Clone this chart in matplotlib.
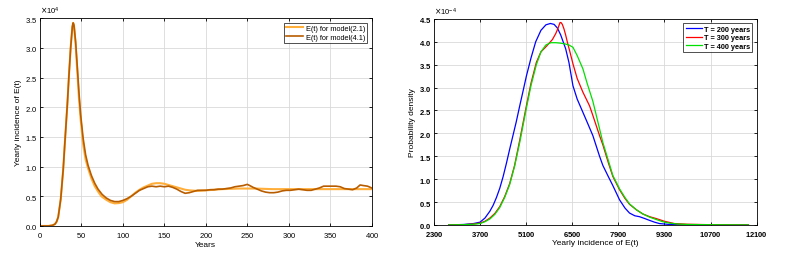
import matplotlib
matplotlib.use("Agg")
import matplotlib.pyplot as plt

# ---- left panel: yearly incidence E(t), two models ----
t_m21 = [0, 10, 15, 18, 20, 22, 25, 28, 30, 33, 35, 37, 39, 40, 41, 43, 45, 47, 49,
         52, 55, 58, 62, 66, 70, 74, 80, 85, 90, 95, 100, 105, 110, 115, 120, 125,
         130, 135, 140, 145, 150, 155, 160, 165, 170, 175, 180, 190, 200, 220, 240,
         260, 280, 300, 350, 400]
e_m21 = [0, 0, 0.01, 0.03, 0.07, 0.15, 0.45, 0.95, 1.4, 2.05, 2.55, 3.0, 3.35, 3.42,
         3.38, 3.05, 2.6, 2.15, 1.8, 1.38, 1.12, 0.97, 0.8, 0.67, 0.58, 0.5, 0.44,
         0.4, 0.38, 0.385, 0.4, 0.44, 0.5, 0.56, 0.61, 0.65, 0.68, 0.71, 0.72, 0.72,
         0.71, 0.69, 0.67, 0.65, 0.63, 0.61, 0.6, 0.59, 0.6, 0.62, 0.63, 0.63, 0.62,
         0.62, 0.62, 0.62]

t_m41 = [0, 10, 15, 18, 20, 22, 25, 28, 30, 33, 35, 37, 39, 40, 41, 43, 45, 47, 49,
         52, 55, 58, 62, 66, 70, 75, 80, 85, 90, 95, 100, 105, 110, 115, 120, 125,
         130, 135, 140, 145, 150, 155, 160, 165, 170, 175, 180, 185, 190, 195, 200,
         205, 210, 215, 220, 225, 230, 235, 240, 245, 250, 253, 257, 262, 267, 272,
         277, 282, 287, 292, 297, 302, 307, 312, 317, 322, 327, 332, 337, 342, 347,
         352, 357, 362, 367, 372, 377, 382, 386, 390, 395, 400]
e_m41 = [0, 0, 0.01, 0.03, 0.07, 0.15, 0.45, 0.95, 1.4, 2.05, 2.55, 3.0, 3.35, 3.42,
         3.38, 3.1, 2.68, 2.25, 1.88, 1.48, 1.2, 1.02, 0.85, 0.72, 0.62, 0.53, 0.47,
         0.43, 0.41, 0.41, 0.43, 0.46, 0.5, 0.55, 0.6, 0.63, 0.66, 0.67, 0.66, 0.67,
         0.66, 0.67, 0.65, 0.62, 0.58, 0.55, 0.56, 0.58, 0.6, 0.6, 0.6, 0.61, 0.61,
         0.62, 0.62, 0.63, 0.64, 0.66, 0.67, 0.68, 0.70, 0.68, 0.65, 0.62, 0.59, 0.57,
         0.56, 0.56, 0.57, 0.59, 0.6, 0.6, 0.61, 0.62, 0.61, 0.6, 0.6, 0.62, 0.64,
         0.67, 0.67, 0.67, 0.67, 0.66, 0.63, 0.62, 0.61, 0.64, 0.69, 0.68, 0.67, 0.64]

# ---- right panel: probability density of yearly incidence ----
x_t200 = [2750, 3200, 3500, 3700, 3850, 4000, 4100, 4200, 4300, 4400, 4500, 4603,
          4700, 4800, 4906, 5000, 5108, 5250, 5391, 5550, 5700, 5836, 5950, 6050,
          6150, 6300, 6400, 6522, 6650, 6824, 6950, 7127, 7330, 7430, 7600, 7733,
          7936, 8100, 8239, 8400, 8542, 8700, 8845, 9000, 9148, 9450, 9800, 10500,
          11850]
p_t200 = [0, 0.01, 0.03, 0.06, 0.15, 0.3, 0.43, 0.6, 0.8, 1.05, 1.34, 1.66, 1.95,
          2.25, 2.6, 2.9, 3.25, 3.65, 4.0, 4.25, 4.37, 4.4, 4.38, 4.3, 4.15, 3.85,
          3.55, 3.04, 2.75, 2.46, 2.25, 1.95, 1.5, 1.3, 1.05, 0.86, 0.55, 0.37, 0.26,
          0.2, 0.18, 0.14, 0.1, 0.06, 0.03, 0.01, 0.003, 0, 0]

x_t300 = [2750, 3200, 3500, 3700, 3850, 4000, 4150, 4300, 4450, 4600, 4750, 4906,
          5000, 5108, 5250, 5411, 5550, 5714, 5900, 6000, 6060, 6100, 6130, 6160,
          6200, 6250, 6300, 6350, 6430, 6522, 6650, 6824, 7027, 7127, 7330, 7430,
          7600, 7733, 7936, 8100, 8239, 8450, 8643, 8850, 9046, 9300, 9600, 10000,
          10700, 11850]
p_t300 = [0, 0.005, 0.02, 0.04, 0.08, 0.15, 0.25, 0.4, 0.62, 0.9, 1.3, 1.85, 2.2,
          2.6, 3.1, 3.55, 3.78, 3.9, 4.05, 4.18, 4.28, 4.36, 4.42, 4.42, 4.38, 4.28,
          4.15, 4.0, 3.78, 3.52, 3.2, 2.9, 2.6, 2.39, 1.95, 1.75, 1.35, 1.06, 0.77,
          0.58, 0.45, 0.33, 0.24, 0.18, 0.14, 0.08, 0.03, 0.015, 0.005, 0]

x_t400 = [2750, 3200, 3500, 3700, 3850, 4000, 4150, 4300, 4450, 4600, 4750, 4906,
          5000, 5108, 5250, 5411, 5550, 5700, 5850, 6000, 6150, 6300, 6400, 6522,
          6650, 6824, 6950, 7127, 7330, 7430, 7600, 7733, 7936, 8100, 8239, 8450,
          8643, 8850, 9046, 9250, 9450, 9700, 10000, 10700, 11850]
p_t400 = [0, 0.005, 0.015, 0.03, 0.07, 0.13, 0.23, 0.38, 0.6, 0.88, 1.28, 1.8, 2.15,
          2.55, 3.05, 3.5, 3.78, 3.93, 3.98, 3.98, 3.97, 3.95, 3.93, 3.88, 3.7, 3.41,
          3.1, 2.7, 2.1, 1.8, 1.4, 1.08, 0.79, 0.6, 0.46, 0.33, 0.24, 0.17, 0.12,
          0.07, 0.04, 0.02, 0.01, 0.004, 0]

plt.rcParams["font.family"] = ["Liberation Sans", "DejaVu Sans"]
plt.rcParams["axes.formatter.use_mathtext"] = True

fig = plt.figure(figsize=(8.11, 2.55), dpi=100)
ax1 = fig.add_axes([0.0493, 0.110, 0.409, 0.815])
ax2 = fig.add_axes([0.535, 0.114, 0.398, 0.808])


def style(ax):
    ax.grid(True, color="0.85", linewidth=0.6)
    ax.set_axisbelow(True)
    ax.tick_params(direction="in", length=2.5, width=0.6, labelsize=5.5,
                   top=True, right=True, pad=2)
    ax.tick_params(axis="x", pad=3)
    for s in ax.spines.values():
        s.set_linewidth(0.6)
    ax.ticklabel_format(axis="y", style="sci", scilimits=(0, 0), useMathText=True)
    ax.yaxis.get_offset_text().set_fontsize(5.5)


ax1.plot(t_m21, [v * 1e4 for v in e_m21], color="#FFAE3A", lw=1.5,
         label="E(t) for model(2.1)")
ax1.plot(t_m41, [v * 1e4 for v in e_m41], color="#B85C00", lw=1.2,
         label="E(t) for model(4.1)")
ax1.set_xlim(0, 400)
ax1.set_ylim(0, 3.5e4)
ax1.set_xticks(range(0, 401, 50))
ax1.set_yticks([i * 0.5e4 for i in range(8)])
style(ax1)
ax1.set_xlabel("Years", fontsize=6, labelpad=1)
ax1.set_ylabel("Yearly incidence of E(t)", fontsize=6, labelpad=2)
leg = ax1.legend(loc="upper right", fontsize=5.3, frameon=True, fancybox=False,
                 edgecolor="black", handlelength=2.4, borderpad=0.3,
                 labelspacing=0.2, handletextpad=0.3, borderaxespad=0.6)
leg.get_frame().set_linewidth(0.6)

ax2.plot(x_t200, [v * 1e-4 for v in p_t200], color="#0000FF", lw=0.9, label="T = 200 years")
ax2.plot(x_t300, [v * 1e-4 for v in p_t300], color="#FF0000", lw=0.9, label="T = 300 years")
ax2.plot(x_t400, [v * 1e-4 for v in p_t400], color="#00E000", lw=0.9, label="T = 400 years")
ax2.set_xlim(2300, 12100)
ax2.set_ylim(0, 4.5e-4)
ax2.set_xticks(range(2300, 12101, 1400))
ax2.set_yticks([i * 0.5e-4 for i in range(10)])
style(ax2)
for lbl in ax2.get_xticklabels() + ax2.get_yticklabels():
    lbl.set_fontweight("bold")
ax2.set_xlabel("Yearly incidence of E(t)", fontsize=6, labelpad=1)
ax2.set_ylabel("Probability density", fontsize=6, labelpad=2)
leg = ax2.legend(loc="upper right", frameon=True, fancybox=False,
                 edgecolor="black", handlelength=2.2, borderpad=0.3,
                 labelspacing=0.2, handletextpad=0.3, borderaxespad=0.6,
                 prop={"weight": "bold", "size": 5.3})
leg.get_frame().set_linewidth(0.6)

fig.savefig("out.png", dpi=100)
